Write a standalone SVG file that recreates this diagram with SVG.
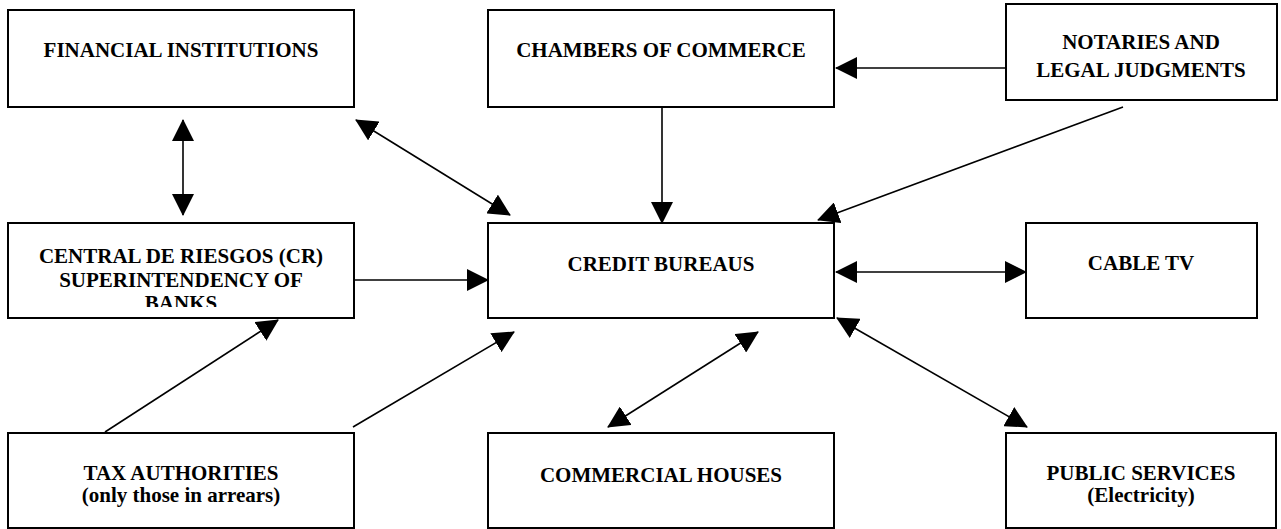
<svg xmlns="http://www.w3.org/2000/svg" width="1281" height="529" viewBox="0 0 1281 529">
<style>
.box{fill:#fff;stroke:#000;stroke-width:2}
.t{font-family:"Liberation Serif","Times New Roman",serif;font-weight:bold;font-size:21px;fill:#000;text-anchor:middle}
.c{stroke:#000;stroke-width:1.6;fill:none}
</style>
<defs>
<marker id="ah" viewBox="0 0 22 22" markerWidth="22" markerHeight="22" markerUnits="userSpaceOnUse" refX="21" refY="11" orient="auto-start-reverse">
<path d="M0,0 L22,11 L0,22 z" fill="#000"/>
</marker>
<clipPath id="clipCR"><rect x="8" y="223" width="346" height="84"/></clipPath>
</defs>
<rect width="1281" height="529" fill="#fff"/>
<g id="financial">
<rect class="box" x="8" y="10" width="346" height="97"/>
<text class="t" x="181" y="57">FINANCIAL INSTITUTIONS</text>
</g>
<g id="chambers">
<rect class="box" x="488" y="10" width="346" height="97"/>
<text class="t" x="661" y="57">CHAMBERS OF COMMERCE</text>
</g>
<g id="notaries">
<rect class="box" x="1006" y="4" width="271" height="96"/>
<text class="t" x="1141" y="49">NOTARIES AND</text>
<text class="t" x="1141" y="77">LEGAL JUDGMENTS</text>
</g>
<g id="central">
<rect class="box" x="8" y="223" width="346" height="95"/>
<g clip-path="url(#clipCR)">
<text class="t" x="181" y="263">CENTRAL DE RIESGOS (CR)</text>
<text class="t" x="181" y="287">SUPERINTENDENCY OF</text>
<text class="t" x="181" y="310">BANKS</text>
</g>
</g>
<g id="credit">
<rect class="box" x="488" y="223" width="346" height="95"/>
<text class="t" x="661" y="271">CREDIT BUREAUS</text>
</g>
<g id="cable">
<rect class="box" x="1026" y="223" width="231" height="95"/>
<text class="t" x="1141" y="270">CABLE TV</text>
</g>
<g id="tax">
<rect class="box" x="8" y="433" width="346" height="95"/>
<text class="t" x="181" y="480">TAX AUTHORITIES</text>
<text class="t" x="181" y="502">(only those in arrears)</text>
</g>
<g id="commercial">
<rect class="box" x="488" y="433" width="346" height="95"/>
<text class="t" x="661" y="482">COMMERCIAL HOUSES</text>
</g>
<g id="public">
<rect class="box" x="1006" y="433" width="270" height="95"/>
<text class="t" x="1141" y="480">PUBLIC SERVICES</text>
<text class="t" x="1141" y="502">(Electricity)</text>
</g>
<g id="connectors">
<line class="c" x1="183" y1="120" x2="183" y2="215" marker-start="url(#ah)" marker-end="url(#ah)"/>
<line class="c" x1="356" y1="120" x2="510" y2="215" marker-start="url(#ah)" marker-end="url(#ah)"/>
<line class="c" x1="662" y1="107" x2="662" y2="223" marker-end="url(#ah)"/>
<line class="c" x1="1006" y1="68" x2="836" y2="68" marker-end="url(#ah)"/>
<line class="c" x1="1123" y1="107" x2="818" y2="220" marker-end="url(#ah)"/>
<line class="c" x1="354" y1="280" x2="488" y2="280" marker-end="url(#ah)"/>
<line class="c" x1="836" y1="272" x2="1026" y2="272" marker-start="url(#ah)" marker-end="url(#ah)"/>
<line class="c" x1="105" y1="432" x2="278" y2="320" marker-end="url(#ah)"/>
<line class="c" x1="353" y1="427" x2="514" y2="332" marker-end="url(#ah)"/>
<line class="c" x1="608" y1="427" x2="758" y2="332" marker-start="url(#ah)" marker-end="url(#ah)"/>
<line class="c" x1="837" y1="318" x2="1027" y2="427" marker-start="url(#ah)" marker-end="url(#ah)"/>
</g>
</svg>
